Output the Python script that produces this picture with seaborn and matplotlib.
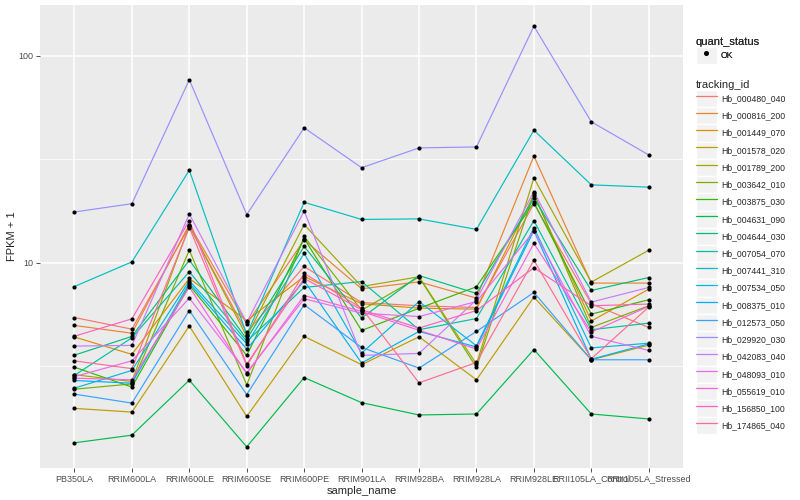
import pandas as pd
import numpy as np
import seaborn as sns
import matplotlib.pyplot as plt
from matplotlib.lines import Line2D
from matplotlib.patches import Rectangle
from matplotlib.legend_handler import HandlerLine2D

sns.set_theme(style="white")
plt.rcParams['font.family'] = ['Liberation Sans', 'DejaVu Sans']

samples = ["PB350LA", "RRIM600LA", "RRIM600LE", "RRIM600SE", "RRIM600PE", "RRIM901LA",
           "RRIM928BA", "RRIM928LA", "RRIM928LE", "RRII105LA_Control", "RRII105LA_Stressed"]

genes = ["Hb_000480_040", "Hb_000816_200", "Hb_001449_070", "Hb_001578_020", "Hb_001789_200",
         "Hb_003642_010", "Hb_003875_030", "Hb_004631_090", "Hb_004644_030", "Hb_007054_070",
         "Hb_007441_310", "Hb_007534_050", "Hb_008375_010", "Hb_012573_050", "Hb_029920_030",
         "Hb_042083_040", "Hb_048093_010", "Hb_055619_010", "Hb_156850_100", "Hb_174865_040"]

# FPKM + 1 per gene, in sample order
hb_000480_040 = [5.44, 4.78, 15.0, 4.61, 9.60, 6.43, 6.20, 6.08, 19.3, 6.34, 4.87]
hb_000816_200 = [4.98, 4.57, 15.3, 5.06, 12.9, 7.49, 8.09, 6.75, 32.8, 7.98, 7.98]
hb_001449_070 = [4.38, 3.61, 8.4, 5.26, 8.59, 6.34, 6.04, 5.97, 21.3, 5.23, 7.46]
hb_001578_020 = [1.98, 1.9, 4.95, 1.81, 4.41, 3.22, 4.39, 2.72, 6.83, 3.4, 4.0]
hb_001789_200 = [2.88, 2.67, 15.1, 4.41, 15.3, 7.68, 8.56, 3.24, 25.7, 8.07, 11.5]
hb_003642_010 = [2.45, 2.6, 11.5, 2.57, 13.4, 5.9, 8.53, 3.12, 21.7, 4.87, 6.2]
hb_003875_030 = [3.13, 2.51, 7.8, 3.57, 13.1, 4.71, 6.03, 7.66, 19.6, 5.65, 6.63]
hb_004631_090 = [1.35, 1.47, 2.71, 1.29, 2.79, 2.11, 1.84, 1.86, 3.81, 1.86, 1.76]
hb_004644_030 = [3.58, 4.41, 10.3, 4.28, 12.0, 5.41, 8.68, 7.11, 20.5, 7.35, 8.49]
hb_007054_070 = [2.86, 4.34, 9.05, 4.17, 7.6, 8.12, 4.75, 5.38, 16.0, 4.75, 5.11]
hb_007441_310 = [7.68, 10.1, 28.0, 4.49, 19.6, 16.2, 16.3, 14.5, 43.7, 23.8, 23.2]
hb_007534_050 = [2.48, 3.02, 8.19, 4.06, 11.1, 3.66, 6.5, 3.97, 14.8, 3.88, 4.09]
hb_008375_010 = [2.7, 2.62, 7.98, 3.83, 8.19, 3.28, 4.66, 3.92, 14.3, 3.42, 4.06]
hb_012573_050 = [2.32, 2.1, 5.88, 2.31, 6.27, 3.9, 3.1, 4.66, 7.19, 3.4, 3.4]
hb_029920_030 = [17.6, 19.3, 76.6, 17.1, 44.9, 28.8, 35.9, 36.3, 139, 48.0, 33.2]
hb_042083_040 = [3.96, 3.99, 17.2, 5.15, 17.8, 3.57, 3.65, 6.63, 22.1, 6.46, 7.6]
hb_048093_010 = [2.82, 3.36, 6.75, 2.95, 6.7, 5.71, 5.5, 6.5, 14.2, 4.41, 3.77]
hb_055619_010 = [2.77, 2.72, 7.63, 2.91, 6.95, 5.82, 4.72, 3.83, 12.4, 4.63, 6.16]
hb_156850_100 = [4.42, 5.36, 16.0, 3.24, 8.4, 5.93, 4.84, 5.88, 9.46, 6.2, 6.32]
hb_174865_040 = [3.36, 3.08, 14.8, 3.18, 8.88, 6.04, 2.63, 3.3, 10.3, 3.44, 6.11]

values = [hb_000480_040, hb_000816_200, hb_001449_070, hb_001578_020, hb_001789_200,
          hb_003642_010, hb_003875_030, hb_004631_090, hb_004644_030, hb_007054_070,
          hb_007441_310, hb_007534_050, hb_008375_010, hb_012573_050, hb_029920_030,
          hb_042083_040, hb_048093_010, hb_055619_010, hb_156850_100, hb_174865_040]

# ggplot default hue palette, 20 levels
colors = ["#F8766D", "#EA8331", "#D89000", "#C09B00", "#A3A500", "#7CAE00", "#39B600",
          "#00BB4E", "#00BF7D", "#00C1A3", "#00BFC4", "#00BAE0", "#00B0F6", "#35A2FF",
          "#9590FF", "#C77CFF", "#E76BF3", "#FA62DB", "#FF62BC", "#FF6C91"]

rows = []
for g, v in zip(genes, values):
    for s, f in zip(samples, v):
        rows.append({"tracking_id": g, "sample_name": s, "fpkm": f, "quant_status": "OK"})
data = pd.DataFrame(rows)
data["sample_name"] = pd.Categorical(data["sample_name"], categories=samples, ordered=True)

fig = plt.figure(figsize=(8, 5), dpi=100)
ax = fig.add_axes([0.05, 0.064, 0.804, 0.926])
ax.set_facecolor("#EBEBEB")

sns.lineplot(data=data, x="sample_name", y="fpkm", hue="tracking_id", palette=colors,
             hue_order=genes, estimator=None, sort=False, linewidth=0.85, legend=False, ax=ax)
sns.scatterplot(data=data, x="sample_name", y="fpkm", color="black", s=9, linewidth=0,
                legend=False, ax=ax, zorder=3)

ax.set_yscale("log")
ax.set_ylim(1.02, 176)
ax.set_xlim(-0.6, len(samples) - 0.4)
ax.set_yticks([10, 100])
ax.set_yticklabels(["10", "100"])
ax.set_yticks([10 ** 0.5, 10 ** 1.5], minor=True)
ax.yaxis.set_minor_formatter(plt.NullFormatter())
ax.set_xticks(range(len(samples)))
ax.set_xticklabels(samples)

ax.grid(which="major", color="white", linewidth=1.1)
ax.grid(which="minor", axis="y", color="white", linewidth=0.55)
ax.set_axisbelow(True)
for sp in ax.spines.values():
    sp.set_visible(False)
ax.tick_params(axis="both", which="major", length=2.7, width=0.6, color="#333333",
               labelsize=6.5, labelcolor="#4D4D4D", pad=2, bottom=True, left=True)
ax.tick_params(axis="y", which="minor", length=0, left=False)

ax.set_xlabel("sample_name", fontsize=8, labelpad=2)
ax.set_ylabel("FPKM + 1", fontsize=8, labelpad=1)


class KeyHandler(HandlerLine2D):
    def create_artists(self, legend, orig_handle, xdescent, ydescent, width, height, fontsize, trans):
        box = Rectangle((-xdescent, -ydescent), width, height, facecolor="#F2F2F2",
                        edgecolor="white", linewidth=1.0, transform=trans)
        arts = super().create_artists(legend, orig_handle, xdescent, ydescent, width, height, fontsize, trans)
        return [box] + arts


leg_kw = dict(loc="upper left", frameon=False, fontsize=6.2, title_fontsize=8,
              handlelength=2.5, handleheight=2.7, labelspacing=0.0, handletextpad=0.45,
              borderpad=0.2, alignment="left", handler_map={Line2D: KeyHandler()})

ok_handle = Line2D([], [], marker="o", color="black", linestyle="none", markersize=2.6)
leg1 = fig.legend([ok_handle], ["OK"], title="quant_status",
                  bbox_to_anchor=(0.862, 0.938), **leg_kw)

gene_handles = [Line2D([], [], color=c, linewidth=0.9) for c in colors]
leg2 = fig.legend(gene_handles, genes, title="tracking_id",
                  bbox_to_anchor=(0.862, 0.852), **leg_kw)
fig.add_artist(leg1)

fig.savefig("out.png", dpi=100)
